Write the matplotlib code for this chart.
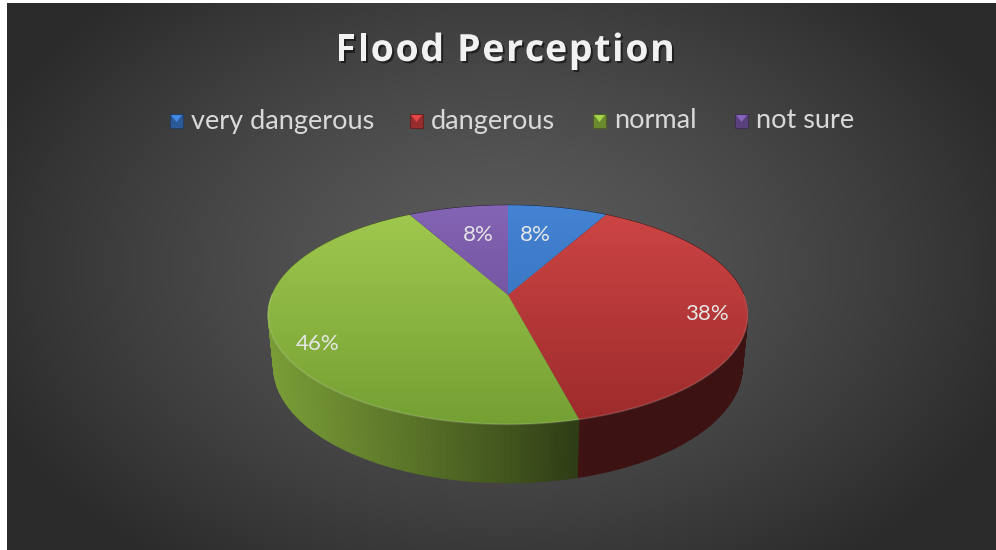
import numpy as np
import matplotlib
matplotlib.use("Agg")
import matplotlib.pyplot as plt
import matplotlib.patheffects as pe
from matplotlib.patches import Polygon, Rectangle
from matplotlib.colors import to_rgb

# ── Data ─────────────────────────────────────────────────────────────────────
TITLE = "Flood Perception"
CATEGORIES = ["very dangerous", "dangerous", "normal", "not sure"]
SHARES = [8, 38, 46, 8]
LABELS = ["8%", "38%", "46%", "8%"]

# ── Style ────────────────────────────────────────────────────────────────────
TOP_LIGHT = ["#4584d4", "#cf4646", "#a2ca50", "#8464b4"]
TOP_DARK = ["#2c66b0", "#9c2a2a", "#74a033", "#60448c"]
WALL = ["#3a78c8", "#c83c3c", "#8fb840", "#7656a4"]
LABEL_NUDGE = [(-8, 2), (3, 8), (0, 15), (6, 2)]   # pixel tweaks for label spots
FONT = "Lato"
TITLE_FONT = dict(fontsize=27, fontweight="bold", family="Open Sans")
TITLE_TRACKING = 1.7       # extra px between title letters

W, H = 996, 550
CX, CY = 508, 295          # apex of the pie (pixels)
K, D = 1168, 4.95          # perspective scale / camera distance
EL = np.radians(26.7)      # elevation
DEPTH = 0.247              # pie thickness (radius units)


def project(theta, r=1.0, z=0.0):
    s, c = np.sin(EL), np.cos(EL)
    x = r * np.sin(theta)
    y = r * np.cos(theta)
    w = D + y * c - z * s
    return CX + x * K / w, CY - (y * s + z * c) * K / w


def wall_shade(theta):
    n = np.array([np.sin(theta), np.cos(theta)])
    light = np.array([-1.0, -0.3]) / np.hypot(1.0, 0.3)
    return 0.30 + 0.55 * max(0.0, float(n @ light))


fig = plt.figure(figsize=(W / 100, H / 100), dpi=100, facecolor="white")
ax = fig.add_axes([0, 0, 1, 1])
ax.set_xlim(0, W)
ax.set_ylim(H, 0)
ax.axis("off")
renderer = fig.canvas.get_renderer()


def text_width(s, **kw):
    t = ax.text(0, 0, s, **kw)
    w = t.get_window_extent(renderer).width
    t.remove()
    return w


# background: radial dark gradient, white strip left/top
xs, ys = np.meshgrid(np.arange(7, W), np.arange(3, H))
d = np.clip(np.sqrt(((xs - 500) / 560) ** 2 + ((ys - 265) / 380) ** 2), 0, 1)
val = (0x5c - (0x5c - 0x2a) * d ** 1.3) / 255
bg = np.dstack([val, val, val])
ax.imshow(bg, extent=(7, W, H, 3), origin="upper", zorder=0, aspect="auto")

fracs = np.array(SHARES, dtype=float) / sum(SHARES)
edges = np.concatenate([[0], np.cumsum(fracs)]) * 2 * np.pi

# side walls, far to near
segs = []
for i in range(len(SHARES)):
    th = np.linspace(edges[i], edges[i + 1], max(3, int(np.degrees(edges[i + 1] - edges[i])) + 1))
    for a, b in zip(th[:-1], th[1:]):
        segs.append((np.cos((a + b) / 2), i, a, b))
segs.sort(key=lambda t: -t[0])
for _, i, a, b in segs:
    xt1, yt1 = project(a)
    xt2, yt2 = project(b)
    xb2, yb2 = project(b, z=-DEPTH)
    xb1, yb1 = project(a, z=-DEPTH)
    col = np.array(to_rgb(WALL[i])) * wall_shade((a + b) / 2)
    ax.add_patch(Polygon([(xt1, yt1), (xt2, yt2), (xb2, yb2), (xb1, yb1)],
                         closed=True, facecolor=col, edgecolor=col, lw=0.6, zorder=2))

# top faces with vertical gradient
y_top = project(0.0)[1]
y_bot = project(np.pi)[1]
grad = np.linspace(0, 1, 200)[:, None, None]
for i in range(len(SHARES)):
    th = np.linspace(edges[i], edges[i + 1], 200)
    px, py = project(th)
    pts = np.vstack([[CX, CY], np.column_stack([px, py])])
    c0, c1 = np.array(to_rgb(TOP_LIGHT[i])), np.array(to_rgb(TOP_DARK[i]))
    img = c0 * (1 - grad) + c1 * grad
    im = ax.imshow(img, extent=(260, 760, y_bot + 2, y_top - 2), origin="upper",
                   zorder=3, aspect="auto")
    clip = Polygon(pts, closed=True, transform=ax.transData)
    im.set_clip_path(clip)

# soft rim highlight on the front edge
th = np.linspace(np.pi / 2, 3 * np.pi / 2, 200)
rx, ry = project(th)
ax.plot(rx, ry, color="white", alpha=0.15, lw=1.2, zorder=4)

# data labels
mids = (edges[:-1] + edges[1:]) / 2
for i, lab in enumerate(LABELS):
    r = 0.68 if fracs[i] < 0.1 else 0.82
    lx, ly = project(mids[i], r=r)
    ax.text(lx + LABEL_NUDGE[i][0], ly + LABEL_NUDGE[i][1], lab, ha="center", va="center",
            fontsize=16, color="#e6e6e6", family=FONT, zorder=5)

# title, letter-spaced by hand
shadow = [pe.SimplePatchShadow(offset=(1.5, -1.5), shadow_rgbFace="black", alpha=0.5), pe.Normal()]
ref_w = text_width("l", **TITLE_FONT)
total = text_width(TITLE, **TITLE_FONT) + TITLE_TRACKING * (len(TITLE) - 1)
x_start = 505 - total / 2
for k, ch in enumerate(TITLE):
    if ch == " ":
        continue
    off = text_width(TITLE[:k] + "l", **TITLE_FONT) - ref_w if k else 0.0
    ax.text(x_start + off + TITLE_TRACKING * k, 51, ch, ha="left", va="center",
            color="#f2f2f2", zorder=5, path_effects=shadow, **TITLE_FONT)

# legend, drawn by hand to keep Excel spacing
leg_x = [170, 410, 593, 735]
for i, name in enumerate(CATEGORIES):
    x0 = leg_x[i]
    base = np.array(to_rgb(WALL[i]))
    ax.add_patch(Rectangle((x0, 114), 13, 14, facecolor=base * 0.75,
                           edgecolor=base * 0.5, lw=0.6, zorder=5))
    ax.add_patch(Polygon([(x0 + 1, 115), (x0 + 12, 115), (x0 + 6.5, 122)], closed=True,
                         facecolor=np.clip(base * 1.15, 0, 1), lw=0, zorder=6))
    ax.text(x0 + 21, 121, name, ha="left", va="center", fontsize=19.5, color="#d9d9d9",
            family=FONT, zorder=5)

fig.savefig("out.png", dpi=100, facecolor=fig.get_facecolor())
